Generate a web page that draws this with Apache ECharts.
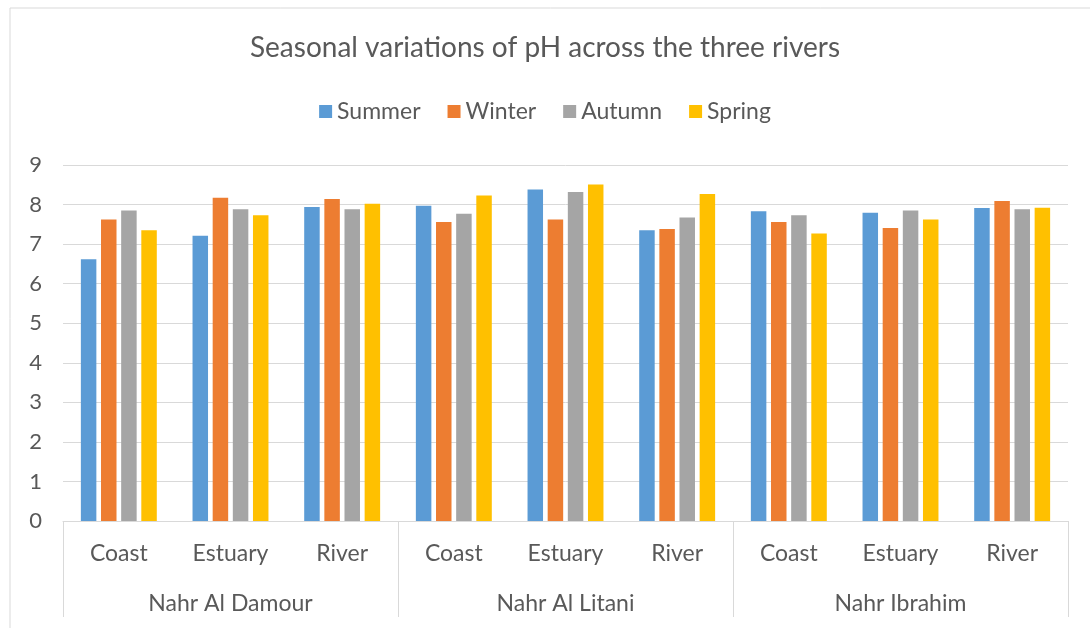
<!DOCTYPE html>
<html>
<head>
<meta charset="utf-8">
<script src="https://cdn.jsdelivr.net/npm/echarts@6/dist/echarts.min.js"></script>
<style>
  html, body { margin: 0; padding: 0; background: #fff; }
  #chart { width: 1090px; height: 628px; }
</style>
</head>
<body>
<div id="chart"></div>
<script>
// sites inside each river, and the rivers themselves
const sites = ['Coast', 'Estuary', 'River', 'Coast', 'Estuary', 'River', 'Coast', 'Estuary', 'River'];
const rivers = ['Nahr Al Damour', 'Nahr Al Litani', 'Nahr Ibrahim'];

// pH per season
const summer = [6.62, 7.21, 7.94, 7.97, 8.38, 7.35, 7.83, 7.79, 7.91];
const winter = [7.62, 8.17, 8.14, 7.56, 7.62, 7.38, 7.56, 7.41, 8.09];
const autumn = [7.85, 7.88, 7.88, 7.77, 8.32, 7.67, 7.73, 7.85, 7.88];
const spring = [7.35, 7.73, 8.02, 8.23, 8.51, 8.27, 7.27, 7.62, 7.92];

const yTicks = [0, 1, 2, 3, 4, 5, 6, 7, 8, 9];

const font = 'Lato, "Open Sans", sans-serif';
const textColor = '#595959';
const lineColor = '#d9d9d9';

const chart = echarts.init(document.getElementById('chart'));

const mkSeries = (name, data, color) => ({
  name: name,
  type: 'bar',
  data: data,
  xAxisIndex: 0,
  barGap: '30%',
  barCategoryGap: '32%',
  itemStyle: { color: color }
});

chart.setOption({
  textStyle: { fontFamily: font },
  title: {
    text: 'Seasonal variations of pH across the three rivers',
    left: 'center',
    top: 29,
    textStyle: { fontFamily: font, fontSize: 28, fontWeight: 'normal', color: textColor }
  },
  legend: {
    top: 95,
    left: 'center',
    itemWidth: 13,
    itemHeight: 13,
    itemGap: 27,
    icon: 'rect',
    textStyle: { fontFamily: font, fontSize: 23, color: textColor }
  },
  graphic: [{
    type: 'rect',
    shape: { x: 10, y: 8, width: 1100, height: 700 },
    style: { fill: 'none', stroke: lineColor, lineWidth: 1 },
    silent: true
  }],
  grid: { left: 63, right: 22, top: 165, bottom: 107 },
  xAxis: [
    {
      type: 'category',
      data: sites,
      position: 'bottom',
      axisLine: { show: false },
      axisTick: { show: false },
      axisLabel: { margin: 21, fontSize: 23, color: textColor, fontFamily: font, interval: 0 }
    },
    {
      type: 'category',
      data: rivers,
      position: 'bottom',
      axisLine: { show: true, lineStyle: { color: lineColor, width: 1 } },
      axisTick: { show: true, length: 96, interval: 0, lineStyle: { color: lineColor } },
      axisLabel: { margin: 71, fontSize: 23, color: textColor, fontFamily: font, interval: 0 }
    }
  ],
  yAxis: {
    type: 'value',
    min: yTicks[0],
    max: yTicks[yTicks.length - 1],
    interval: 1,
    axisLine: { show: false },
    axisTick: { show: false },
    axisLabel: { margin: 21, fontSize: 22, color: textColor, fontFamily: font },
    splitLine: { lineStyle: { color: lineColor, width: 1 } }
  },
  series: [
    mkSeries('Summer', summer, '#5B9BD5'),
    mkSeries('Winter', winter, '#ED7D31'),
    mkSeries('Autumn', autumn, '#A5A5A5'),
    mkSeries('Spring', spring, '#FFC000')
  ]
});
</script>
</body>
</html>
